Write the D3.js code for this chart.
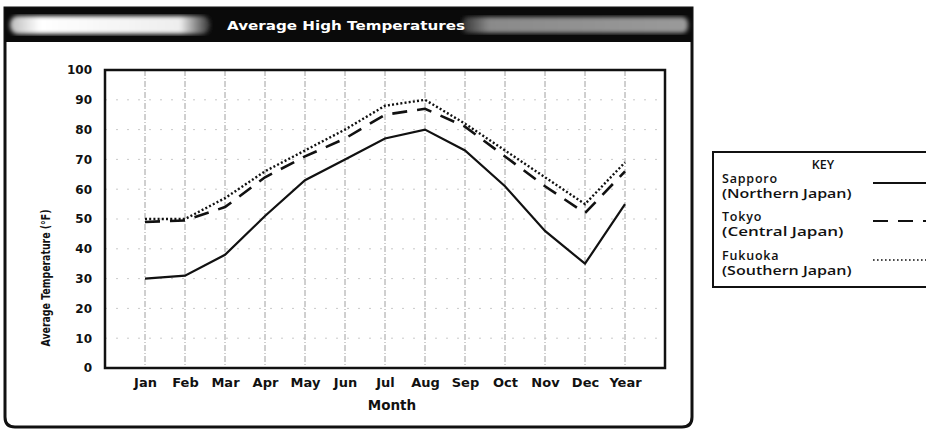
<!DOCTYPE html>
<html>
<head>
<meta charset="utf-8">
<script src="https://cdn.jsdelivr.net/npm/d3@7"></script>
<style>
body { margin:0; background:#fff; }
svg { display:block; font-family:"DejaVu Sans", sans-serif; }
</style>
</head>
<body>
<div id="chart"></div>
<script>
const months = ["Jan","Feb","Mar","Apr","May","Jun","Jul","Aug","Sep","Oct","Nov","Dec","Year"]
const sapporo = [30,31,38,51,63,70,77,80,73,61,46,35,55]
const tokyo = [49,49.5,54,64,71,77,85,87,81,71,61,52,66]
const fukuoka = [50,50,57,66,73,80,88,90,82,73,64,55,69]
const yTicks = [0,10,20,30,40,50,60,70,80,90,100]

const width = 926
const height = 430
const margin = { top:70, bottom:62, left:105, right:261 }
const innerWidth = 560
const innerHeight = 298
const font = '"DejaVu Sans", sans-serif'

const svg = d3.select('#chart').append('svg')
  .attr('width', width).attr('height', height)

// frame + title bar
const defs = svg.append('defs')
const gl = defs.append('linearGradient').attr('id','barL')
gl.append('stop').attr('offset','0%').attr('stop-color','#bbb')
gl.append('stop').attr('offset','15%').attr('stop-color','#fff')
gl.append('stop').attr('offset','85%').attr('stop-color','#eee')
gl.append('stop').attr('offset','100%').attr('stop-color','#333')
const gr = defs.append('linearGradient').attr('id','barR')
gr.append('stop').attr('offset','0%').attr('stop-color','#333')
gr.append('stop').attr('offset','12%').attr('stop-color','#8a8a8a')
gr.append('stop').attr('offset','100%').attr('stop-color','#9a9a9a')
const blur = defs.append('filter').attr('id','soft')
blur.append('feGaussianBlur').attr('stdDeviation',2)

svg.append('path')
  .attr('d','M5,8 H692 V417 Q692,427 682,427 H15 Q5,427 5,417 Z')
  .attr('fill','#fff').attr('stroke','#111').attr('stroke-width',3)
svg.append('rect').attr('x',5).attr('y',8).attr('width',687).attr('height',34).attr('fill','#0a0a0a')
svg.append('rect').attr('x',10).attr('y',16).attr('width',200).attr('height',18).attr('rx',8)
  .attr('fill','url(#barL)').attr('filter','url(#soft)')
svg.append('rect').attr('x',462).attr('y',17).attr('width',226).attr('height',16).attr('rx',6)
  .attr('fill','url(#barR)').attr('filter','url(#soft)')
svg.append('text').text('Average High Temperatures')
  .attr('x',346).attr('y',30).attr('text-anchor','middle')
  .attr('fill','#fff').attr('font-weight',700).attr('font-size',13)
  .attr('textLength',238).attr('lengthAdjust','spacingAndGlyphs')

const g = svg.append('g').attr('transform',`translate(${margin.left},${margin.top})`)

const xScale = d3.scalePoint().domain(months).range([0,innerWidth]).padding(1)
const yScale = d3.scaleLinear().domain([0,100]).range([innerHeight,0])

// grid
g.selectAll('.vgrid').data(months).enter().append('line')
  .attr('x1',d=>xScale(d)).attr('x2',d=>xScale(d))
  .attr('y1',0).attr('y2',innerHeight)
  .attr('stroke','#888').attr('stroke-width',0.8).attr('stroke-dasharray','6,2,1,2')
g.selectAll('.hgrid').data(yTicks.slice(1,-1)).enter().append('line')
  .attr('x1',0).attr('x2',innerWidth)
  .attr('y1',d=>yScale(d)).attr('y2',d=>yScale(d))
  .attr('stroke','#bbb').attr('stroke-width',0.8).attr('stroke-dasharray','2,9')

const xAxis = d3.axisBottom(xScale).tickSize(0).tickPadding(10)
const xg = g.append('g').attr('transform',`translate(0,${innerHeight})`).call(xAxis)
const yAxis = d3.axisLeft(yScale).tickValues(yTicks).tickSize(0).tickPadding(13)
const yg = g.append('g').call(yAxis)
;[xg,yg].forEach(a=>{
  a.attr('font-family',font).attr('font-size',12)
  a.select('.domain').remove()
  a.selectAll('text').attr('font-weight',700).attr('fill','#111')
})
xg.selectAll('text').attr('font-size',13)

g.append('rect').attr('x',0).attr('y',0).attr('width',innerWidth).attr('height',innerHeight)
  .attr('fill','none').attr('stroke','#111').attr('stroke-width',2.5)

g.append('text').text('Month')
  .attr('x',287).attr('y',innerHeight+42).attr('text-anchor','middle')
  .attr('font-size',13.5).attr('font-weight',700).attr('fill','#111')
g.append('text').text('Average Temperature (°F)')
  .attr('transform',`translate(-55,${278-margin.top}) rotate(-90)`)
  .attr('text-anchor','middle').attr('font-size',12.5).attr('font-weight',700)
  .attr('font-family','"Liberation Sans Narrow", "DejaVu Sans", sans-serif')
  .attr('fill','#111').attr('textLength',137).attr('lengthAdjust','spacingAndGlyphs')

const series = [
  { name:'Sapporo', sub:'(Northern Japan)', values:sapporo, dash:null, w:2.2 },
  { name:'Tokyo', sub:'(Central Japan)', values:tokyo, dash:'15,10', w:2.6 },
  { name:'Fukuoka', sub:'(Southern Japan)', values:fukuoka, dash:'2,2.2', w:2.4 }
]
const line = d3.line().x((d,i)=>xScale(months[i])).y(d=>yScale(d))
g.selectAll('.series').data(series).enter().append('path')
  .attr('d',d=>line(d.values))
  .attr('fill','none').attr('stroke','#111')
  .attr('stroke-width',d=>d.w)
  .attr('stroke-dasharray',d=>d.dash)

// key
const keyFont = '"Open Sans", sans-serif'
const key = svg.append('g').attr('transform','translate(713,152)')
key.append('rect').attr('x',0).attr('y',0).attr('width',220).attr('height',135)
  .attr('fill','#fff').attr('stroke','#111').attr('stroke-width',2)
key.append('text').text('KEY').attr('x',110).attr('y',17).attr('text-anchor','middle')
  .attr('font-family',keyFont).attr('font-size',12.5).attr('font-weight',600).attr('fill','#111')
const rows = key.selectAll('.row').data(series).enter().append('g')
  .attr('transform',(d,i)=>`translate(0,${[31,69,108][i]})`)
rows.append('text').text(d=>d.name).attr('x',9).attr('y',0)
  .attr('font-family',keyFont).attr('font-size',12.5).attr('font-weight',600).attr('fill','#111')
  .attr('letter-spacing',0.8)
rows.append('text').text(d=>d.sub).attr('x',9).attr('y',15)
  .attr('font-family',keyFont).attr('font-size',12.5).attr('font-weight',600).attr('fill','#111')
  .attr('textLength',d=>d.sub.length*8.1).attr('lengthAdjust','spacingAndGlyphs')
rows.append('line').attr('x1',160).attr('x2',215).attr('y1',0).attr('y2',0)
  .attr('stroke','#111').attr('stroke-width',d=>d.dash==='2,2.2'?1.6:2)
  .attr('stroke-dasharray',d=>d.dash==='2,2.2'?'1.6,2.4':d.dash)
</script>
</body>
</html>
